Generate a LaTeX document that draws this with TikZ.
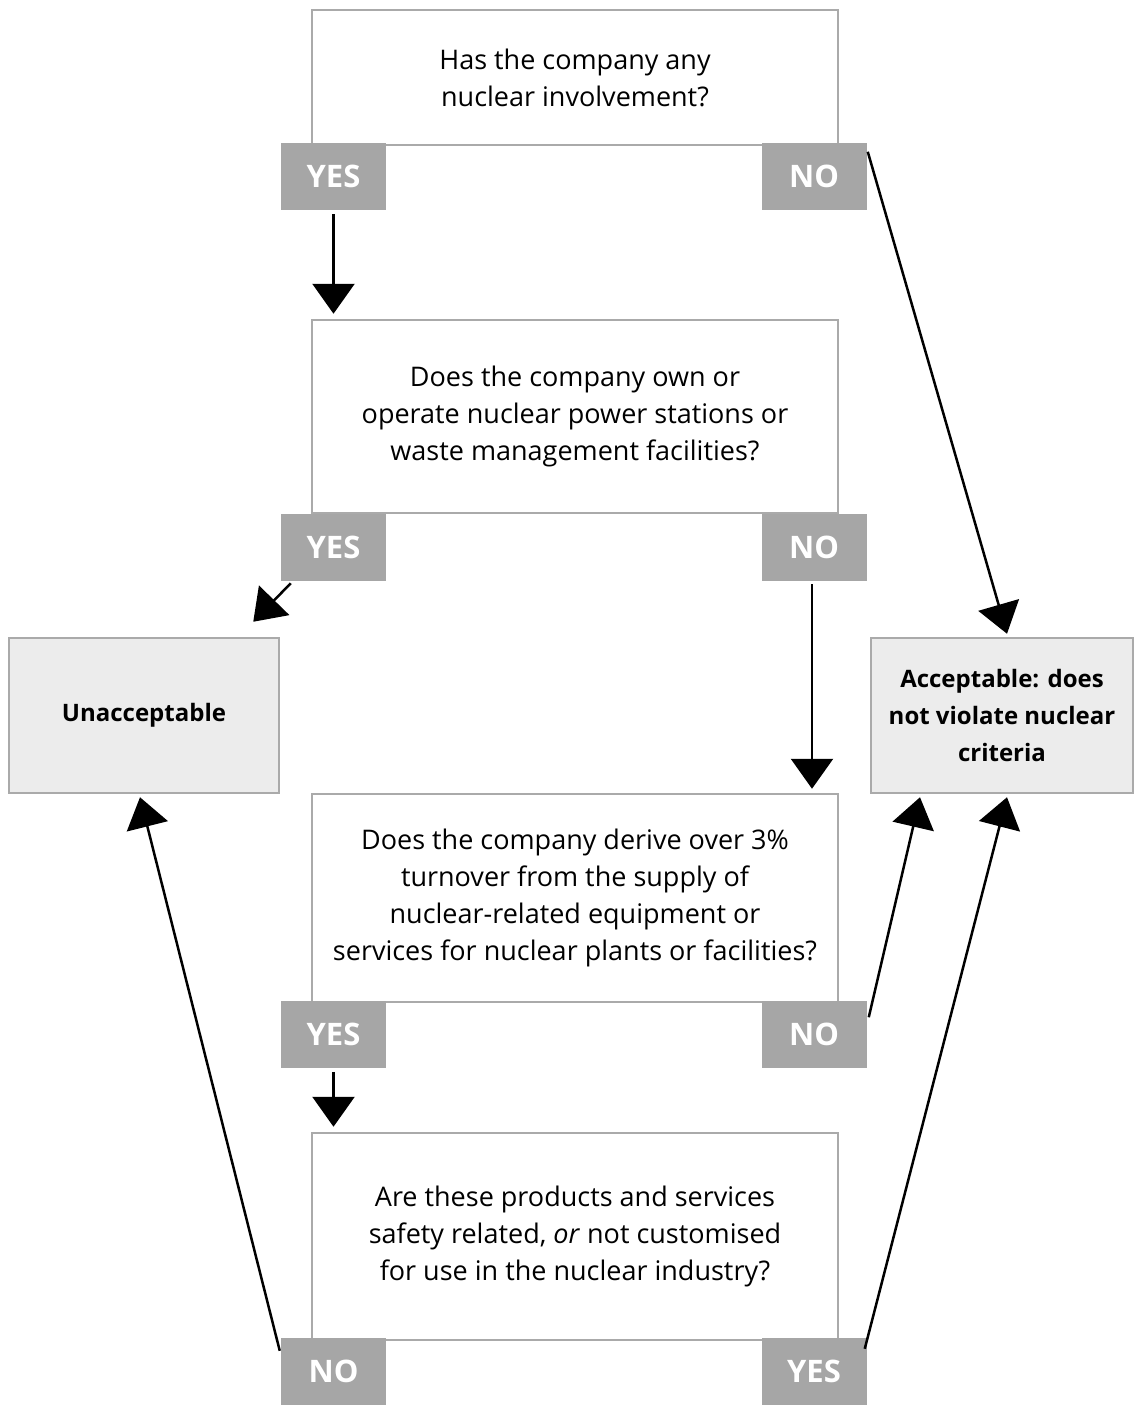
\documentclass[tikz,border=0pt]{standalone}
\usepackage{fontspec}
\setmainfont{Open Sans}
\usetikzlibrary{arrows.meta, calc}

\definecolor{boxgray}{RGB}{170,170,170}
\definecolor{taggray}{RGB}{166,166,166}
\definecolor{outfill}{RGB}{236,236,236}

\begin{document}
\begin{tikzpicture}[
            x = 1pt, y = -1pt, % one unit per pixel, top down
            > = {Triangle[width=42pt,length=30pt]}, % arrow head style
            line width = 2.5pt
        ]

        \tikzstyle{question}=[
            draw = boxgray,
            fill = white,
            minimum width = 526pt,
            align = center,
            inner sep = 0pt,
            font = \fontsize{27}{37}\selectfont
        ]
        \tikzstyle{answer}=[
            fill = taggray,
            text = white,
            minimum width = 105pt,
            minimum height = 67pt,
            inner sep = 0pt,
            font = \fontsize{31}{36}\selectfont\bfseries
        ]
        \tikzstyle{outcome}=[
            draw = boxgray,
            fill = outfill,
            minimum height = 155pt,
            align = center,
            inner sep = 0pt,
            font = \fontsize{24}{37}\selectfont\bfseries
        ]
        \tikzstyle{link}=[->, black, line width = 2.5pt]

        \useasboundingbox (0,0) rectangle (1134,1405);

        % questions
        \node[question, minimum height=135pt] (q1) at (575,77.5) {Has the company any\\nuclear involvement?};
        \node[question, minimum height=193pt] (q2) at (575,416.5) {Does the company own or\\operate nuclear power stations or\\waste management facilities?};
        \node[question, minimum height=208pt] (q3) at (575,898) {Does the company derive over 3\%\\turnover from the supply of\\nuclear-related equipment or\\services for nuclear plants or facilities?};
        \node[question, minimum height=207pt] (q4) at (575,1236.5) {Are these products and services\\safety related, \textit{or} not customised\\for use in the nuclear industry?};

        % outcomes
        \node[outcome, minimum width=270pt] (unacc) at (144,715.5) {Unacceptable};
        \node[outcome, minimum width=262pt] (acc) at (1002,715.5) {Acceptable: does\\not violate nuclear\\criteria};

        % answers
        \node[answer] (y1) at (333.5,176.5) {YES};
        \node[answer] (n1) at (814,176.5) {NO};
        \node[answer] (y2) at (333.5,547.5) {YES};
        \node[answer] (n2) at (814,547.5) {NO};
        \node[answer] (y3) at (333.5,1034) {YES};
        \node[answer] (n3) at (814,1034) {NO};
        \node[answer] (n4) at (333.5,1371.5) {NO};
        \node[answer] (y4) at (814,1371.5) {YES};

        \draw[link, shorten <=3pt, shorten >=5pt] (y1) -- (y1 |- q2.north);
        \draw[link] ($(n1.north east)+(0,10)$) -- ($(acc.north)+(5,-3)$);
        \draw[link] ($(y2.south west)+(11,1)$) -- ($(unacc.north east)+(-27,-15)$);
        \draw[link, shorten <=2pt, shorten >=4pt] ([xshift=-2pt]n2.south) -- ([xshift=-2pt]n2 |- q3.north);
        \draw[link] ($(n3.north east)+(1,18)$) -- ($(acc.south)+(-82,3)$);
        \draw[link, shorten <=3pt, shorten >=5pt] (y3) -- (y3 |- q4.north);
        \draw[link] ($(n4.north west)+(0,14)$) -- ($(unacc.south)+(-4,3)$);
        \draw[link] ($(y4.north east)+(-3,12)$) -- ($(acc.south)+(5,3)$);

  \end{tikzpicture}
\end{document}
